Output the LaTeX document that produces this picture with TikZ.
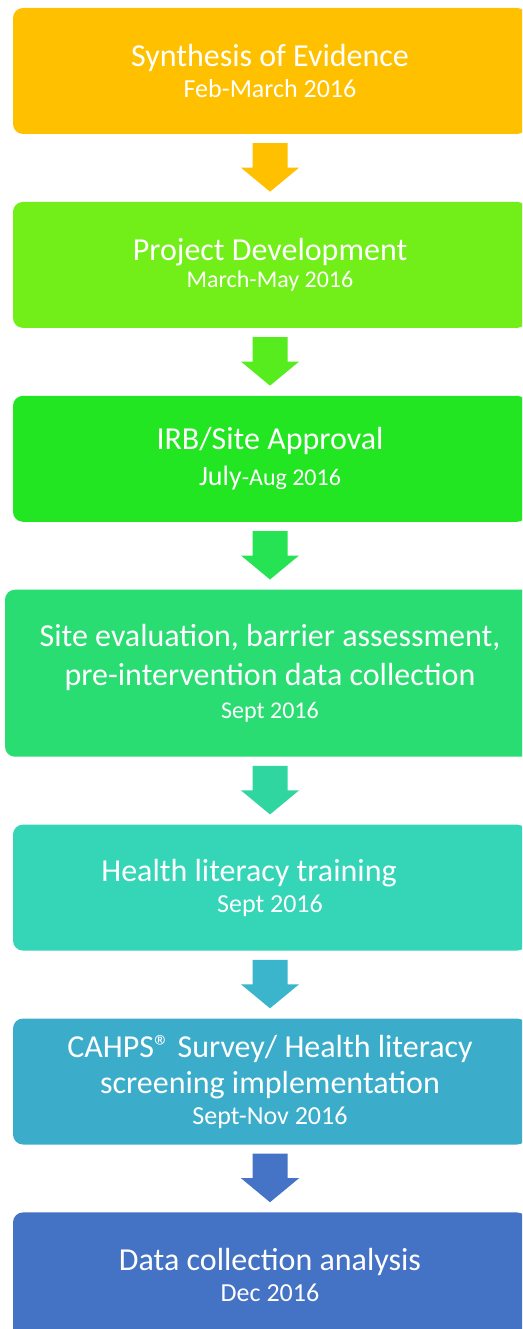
\documentclass[tikz,border=0pt]{standalone}
\usepackage{fontspec}
\setmainfont{Carlito}
\usepackage{tikz}
\usetikzlibrary{positioning, calc}

\definecolor{synC}{HTML}{FFC000}
\definecolor{devC}{HTML}{72EE18}
\definecolor{irbC}{HTML}{22E622}
\definecolor{siteC}{HTML}{2ADD72}
\definecolor{trainC}{HTML}{35D6B8}
\definecolor{survC}{HTML}{3BADCB}
\definecolor{dataC}{HTML}{4472C4}
\definecolor{arrA}{HTML}{FFC000}
\definecolor{arrB}{HTML}{56EC1E}
\definecolor{arrC}{HTML}{25E352}
\definecolor{arrD}{HTML}{30D6A0}
\definecolor{arrE}{HTML}{3AB5CC}
\definecolor{arrF}{HTML}{4573C5}

\newcommand{\when}[1]{{\fontsize{26}{26}\selectfont #1}}
\newcommand{\whensmall}[1]{{\fontsize{24}{24}\selectfont #1}}

\tikzset{
	stage/.style={rounded corners=10pt, minimum width=514pt, minimum height=126pt,
		inner sep=0pt, text=white, align=center, font=\fontsize{32}{31}\selectfont},
}

\begin{document}
\begin{tikzpicture}[x=1pt, y=1pt]
	\clip (0,0) rectangle (522,-1329);
	\fill[white] (0,0) rectangle (522,-1329);

	\node[stage, fill=synC] (syn) at (270,-71)
		{Synthesis of Evidence\\ \when{Feb-March 2016}};
	\node[stage, fill=devC, below=67.5pt of syn] (dev)
		{Project Development\\[-4pt] \whensmall{March-May 2016}};
	\node[stage, fill=irbC, below=67.5pt of dev] (irb)
		{IRB/Site Approval\\[5pt] {\fontsize{28}{28}\selectfont July}\whensmall{-Aug 2016}};
	\node[stage, fill=siteC, minimum width=530pt, minimum height=167pt, below=67.5pt of irb] (site)
		{Site evaluation, barrier assessment,\\[8pt] pre-intervention data collection\\[2pt] \whensmall{Sept 2016}};
	\node[stage, fill=trainC, below=67.5pt of site] (train)
		{Health literacy training\kern42pt\\ \when{Sept 2016}};
	\node[stage, fill=survC, below=67.5pt of train] (surv)
		{CAHPS® Survey/ Health literacy\\[5pt] screening implementation\\ \when{Sept-Nov 2016}};
	\node[stage, fill=dataC, below=67.5pt of surv] (data)
		{Data collection analysis\\ \when{Dec 2016}};

	% block arrows between the stages
	\foreach \from/\to/\col in {syn/dev/arrA, dev/irb/arrB, irb/site/arrC, site/train/arrD, train/surv/arrE, surv/data/arrF}
		\fill[\col] ($(\from.south)+(-17.5,-9)$) -- ($(\from.south)+(17.5,-9)$)
			-- ($(\to.north)+(17.5,34)$) -- ($(\to.north)+(29,34)$) -- ($(\to.north)+(0,10)$)
			-- ($(\to.north)+(-29,34)$) -- ($(\to.north)+(-17.5,34)$) -- cycle;
\end{tikzpicture}
\end{document}
